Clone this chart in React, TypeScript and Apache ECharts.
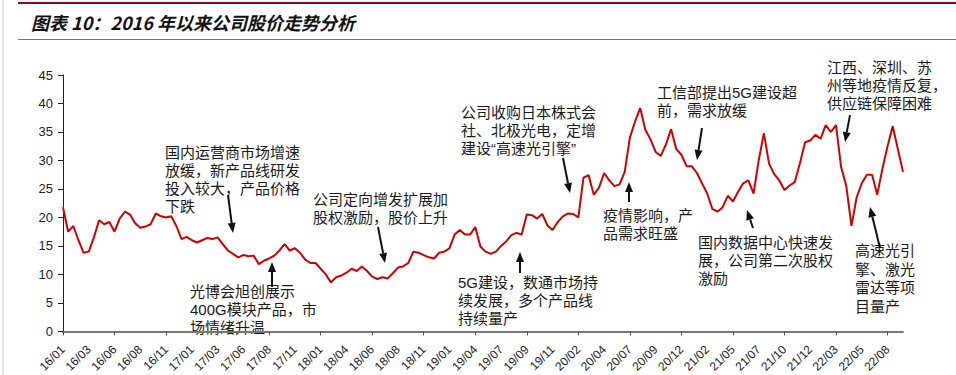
import React, { useEffect, useRef } from "react";
import * as echarts from "echarts";

const tickLabels = [
  "16/01", "16/03", "16/06", "16/08", "16/11", "17/01", "17/03", "17/06", "17/08", "17/11",
  "18/01", "18/04", "18/06", "18/08", "18/11", "19/01", "19/04", "19/07", "19/09", "19/11",
  "20/02", "20/04", "20/07", "20/09", "20/12", "21/02", "21/05", "21/07", "21/10", "21/12",
  "22/03", "22/05", "22/08",
];

// Share price, sampled at roughly half-month steps (5 samples between labels)
const priceValues = [
  21.8, 17.5, 18.5, 16.0, 13.8, 14.0, 16.5, 19.5, 18.8, 19.2,
  17.5, 19.8, 21.0, 20.5, 19.0, 18.2, 18.4, 18.8, 20.7, 20.2,
  20.0, 20.2, 18.5, 16.2, 16.6, 16.0, 15.6, 16.0, 16.4, 16.2,
  16.5, 15.3, 14.2, 13.6, 13.0, 13.4, 13.2, 13.3, 11.8, 12.4,
  12.8, 13.3, 14.2, 15.3, 14.2, 14.6, 13.8, 12.6, 12.0, 12.0,
  11.0, 10.0, 8.6, 9.5, 9.8, 10.3, 11.0, 10.6, 11.4, 10.6,
  9.6, 9.2, 9.5, 9.3, 10.2, 11.2, 11.4, 12.0, 14.0, 13.8,
  13.4, 13.0, 12.8, 13.8, 14.0, 14.6, 17.0, 17.8, 17.0, 17.0,
  18.3, 14.9, 14.0, 13.6, 14.0, 15.0, 15.8, 16.9, 17.3, 17.0,
  20.5, 20.4, 19.8, 20.6, 18.6, 17.8, 19.2, 20.2, 20.7, 20.6,
  20.0, 27.0, 27.4, 24.0, 25.2, 27.8, 26.5, 25.5, 25.8, 28.0,
  34.0, 36.8, 39.2, 35.4, 33.7, 31.5, 30.8, 32.8, 35.5, 32.0,
  31.0, 29.0, 29.0, 27.8, 26.0, 24.2, 21.5, 21.0, 21.8, 23.8,
  22.8, 24.5, 26.0, 26.5, 24.2, 30.0, 34.8, 29.5, 27.6, 26.5,
  24.8, 25.6, 26.2, 29.5, 33.2, 33.5, 34.5, 33.8, 36.2, 35.0,
  36.2, 28.8, 25.5, 18.5, 23.5, 26.0, 27.5, 27.5, 24.0, 28.5,
  32.5, 36.0, 32.0, 28.0,
];

const yTicks = { min: 0, max: 45, interval: 5 };

const titleText = "图表 10：2016 年以来公司股价走势分析";

const notes = [
  { lines: ["国内运营商市场增速", "放缓，新产品线研发", "投入较大，产品价格", "下跌"], x: 165, y: 143, lh: 18, arrow: [228, 195, 233, 233] },
  { lines: ["公司定向增发扩展加", "股权激励，股价上升"], x: 313, y: 190, lh: 18, arrow: [378, 227, 385, 263] },
  { lines: ["光博会旭创展示", "400G模块产品，市", "场情绪升温"], x: 190, y: 283, lh: 17.8, arrow: [272, 287, 272, 262] },
  { lines: ["公司收购日本株式会", "社、北极光电，定增", "建设“高速光引擎”"], x: 461, y: 103, lh: 18.3, arrow: [563, 158, 570, 193] },
  { lines: ["5G建设，数通市场持", "续发展，多个产品线", "持续量产"], x: 458, y: 273, lh: 18, arrow: [520, 273, 520, 252] },
  { lines: ["疫情影响，产", "品需求旺盛"], x: 603, y: 206, lh: 18, arrow: [629, 202, 629, 182] },
  { lines: ["工信部提出5G建设超", "前，需求放缓"], x: 657, y: 83, lh: 18.3, arrow: [702, 128, 697, 160] },
  { lines: ["江西、深圳、苏", "州等地疫情反复，", "供应链保障困难"], x: 827, y: 58, lh: 18, arrow: [850, 115, 845, 142] },
  { lines: ["国内数据中心快速发", "展，公司第二次股权", "激励"], x: 698, y: 233, lh: 18.3, arrow: [753, 228, 747, 210] },
  { lines: ["高速光引", "擎、激光", "雷达等项", "目量产"], x: 855, y: 241, lh: 18.7, arrow: [880, 248, 870, 207] },
];

function arrowGraphics(a: number[]) {
  const [x1, y1, x2, y2] = a;
  const dx = x2 - x1;
  const dy = y2 - y1;
  const len = Math.sqrt(dx * dx + dy * dy);
  const ux = dx / len;
  const uy = dy / len;
  const head = 10;
  const half = 4;
  const bx = x2 - ux * head;
  const by = y2 - uy * head;
  const px = -uy;
  const py = ux;
  return [
    {
      type: "line",
      shape: { x1, y1, x2: bx, y2: by },
      style: { stroke: "#111", lineWidth: 2 },
      silent: true,
    },
    {
      type: "polygon",
      shape: {
        points: [
          [x2, y2],
          [bx + px * half, by + py * half],
          [bx - px * half, by - py * half],
        ],
      },
      style: { fill: "#111" },
      silent: true,
    },
  ];
}

export default function App() {
  const ref = useRef<HTMLDivElement>(null);
  useEffect(() => {
    if (!ref.current) return;
    const chart = echarts.init(ref.current, null, { renderer: "svg" });
    const categories = priceValues.map((_, i) => String(i));
    const graphics: any[] = [
      { type: "line", shape: { x1: 3, y1: 0, x2: 3, y2: 375 }, style: { stroke: "#c8c8c8", lineWidth: 1 }, silent: true },
      { type: "line", shape: { x1: 18, y1: 3, x2: 956, y2: 3 }, style: { stroke: "#a0001f", lineWidth: 2 }, silent: true },
      { type: "line", shape: { x1: 18, y1: 39.5, x2: 956, y2: 39.5 }, style: { stroke: "#c45060", lineWidth: 1 }, silent: true },
      {
        type: "text",
        x: 31,
        y: 22,
        style: {
          text: titleText,
          font: "italic bold 18px 'Noto Sans CJK SC', sans-serif",
          fill: "#111",
          textVerticalAlign: "middle",
        },
        silent: true,
      },
    ];
    notes.forEach((n) => {
      graphics.push({
        type: "text",
        x: n.x,
        y: n.y,
        style: {
          text: n.lines.join("\n"),
          fontSize: 15,
          fontFamily: "'Liberation Sans', 'Noto Sans CJK SC', sans-serif",
          lineHeight: n.lh,
          fill: "#1a1a1a",
          textVerticalAlign: "top",
        },
        silent: true,
      });
      graphics.push(...arrowGraphics(n.arrow));
    });

    chart.setOption({
      animation: false,
      grid: { left: 63, top: 75, right: 53, bottom: 41, containLabel: false },
      xAxis: {
        type: "category",
        data: categories,
        boundaryGap: false,
        axisLine: { show: true, lineStyle: { color: "#777", width: 2 } },
        axisTick: {
          show: true,
          interval: (idx: number) => idx % 10 === 0,
          length: 4,
          lineStyle: { color: "#555" },
        },
        axisLabel: {
          interval: (idx: number) => idx % 5 === 0,
          formatter: (_v: string, idx: number) => tickLabels[idx / 5] ?? "",
          rotate: 45,
          margin: 16,
          fontSize: 12,
          fontFamily: "'Liberation Sans', Arial, sans-serif",
          color: "#222",
        },
        splitLine: { show: false },
      },
      yAxis: {
        type: "value",
        min: yTicks.min,
        max: yTicks.max,
        interval: yTicks.interval,
        axisLine: { show: true, lineStyle: { color: "#222", width: 1 } },
        axisTick: { show: true, length: 5, lineStyle: { color: "#222" } },
        axisLabel: {
          margin: 10,
          fontSize: 13,
          fontFamily: "'Liberation Sans', Arial, sans-serif",
          color: "#222",
        },
        splitLine: { show: false },
      },
      series: [
        {
          type: "line",
          data: priceValues,
          symbol: "none",
          lineStyle: { color: "#d00000", width: 2 },
          silent: true,
        },
      ],
      graphic: graphics,
    });
    return () => chart.dispose();
  }, []);
  return (
    <div
      ref={ref}
      style={{ position: "fixed", left: 0, top: 0, width: 956, height: 375, background: "#fff" }}
    />
  );
}
